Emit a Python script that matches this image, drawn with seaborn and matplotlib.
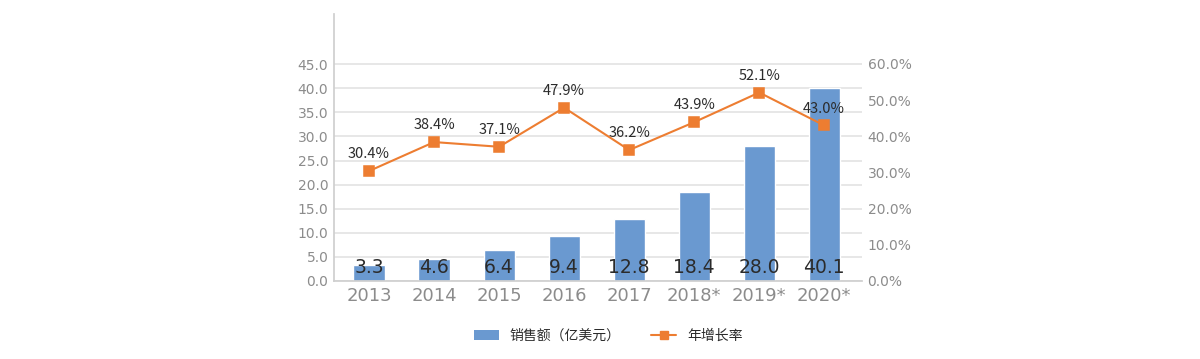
import numpy as np
import pandas as pd
import matplotlib
matplotlib.use("Agg")
import matplotlib.pyplot as plt
import seaborn as sns
from matplotlib.lines import Line2D
from matplotlib.patches import Patch

years = ["2013", "2014", "2015", "2016", "2017", "2018*", "2019*", "2020*"]
sales = [3.3, 4.6, 6.4, 9.4, 12.8, 18.4, 28.0, 40.1]
growth = [30.4, 38.4, 37.1, 47.9, 36.2, 43.9, 52.1, 43.0]

bar_label = "销售额（亿美元）"
line_label = "年增长率"

sns.set_theme(style="white")
plt.rcParams["font.family"] = ["Noto Sans CJK SC", "DejaVu Sans"]

df = pd.DataFrame({"year": years, "sales": sales, "growth": growth})

bar_color = "#6A99D0"
line_color = "#ED7D31"
tick_color = "#8C8C8C"
text_color = "#2B2B2B"

fig = plt.figure(figsize=(12, 3.59), dpi=100)
ax = fig.add_axes([0.2783, 0.2173, 0.44, 0.7437])

sns.barplot(data=df, x="year", y="sales", color=bar_color, width=0.48,
            saturation=1, ax=ax, zorder=2)
ax.set_ylim(0, 55.4)
ax.set_yticks(np.arange(0, 46, 5))
ax.set_yticklabels([f"{v:.1f}" for v in np.arange(0, 46, 5)])
ax.yaxis.grid(True, color="#E3E3E3", linewidth=1.2, zorder=0)
ax.set_axisbelow(True)
ax.set_xlabel("")
ax.set_ylabel("")
for i, v in enumerate(sales):
    ax.text(i, 2.7, f"{v:.1f}", ha="center", va="center", fontsize=13.5,
            color=text_color, family=["DejaVu Sans"], zorder=5)

ax2 = ax.twinx()
sns.pointplot(data=df, x="year", y="growth", color=line_color, markers="s",
              markersize=6.5, linewidth=1.5, ax=ax2)
ax2.set_ylim(0, 73.8)
ax2.set_yticks(np.arange(0, 61, 10))
ax2.set_yticklabels([f"{v:.1f}%" for v in np.arange(0, 61, 10)])
ax2.set_ylabel("")
for i, v in enumerate(growth):
    ax2.annotate(f"{v:.1f}%", (i, v), xytext=(0, 7), textcoords="offset points",
                 ha="center", va="bottom", fontsize=10.5, color=text_color)

ax.set_xlim(-0.54, 7.58)

for a in (ax, ax2):
    for s in ("top", "right", "left", "bottom"):
        a.spines[s].set_visible(False)
ax.spines["left"].set_visible(True)
ax.spines["left"].set_color("#CFCFCF")
ax.spines["bottom"].set_visible(True)
ax.spines["bottom"].set_color("#CFCFCF")

ax.tick_params(axis="x", colors=tick_color, labelsize=13, length=0, pad=4)
ax.tick_params(axis="y", colors=tick_color, labelsize=10, length=0, pad=4)
ax2.tick_params(axis="y", colors=tick_color, labelsize=10, length=0, pad=4)
for lab in ax.get_xticklabels() + ax.get_yticklabels() + ax2.get_yticklabels():
    lab.set_family(["DejaVu Sans"])

handles = [Patch(facecolor=bar_color, edgecolor="none"),
           Line2D([0], [0], color=line_color, marker="s", markersize=6, linewidth=1.5)]
fig.legend(handles, [bar_label, line_label], loc="center", bbox_to_anchor=(0.507, 0.064),
           ncol=2, frameon=False, fontsize=10, labelcolor=text_color,
           columnspacing=2.2, handlelength=1.8)

fig.savefig("out.png", dpi=100)
